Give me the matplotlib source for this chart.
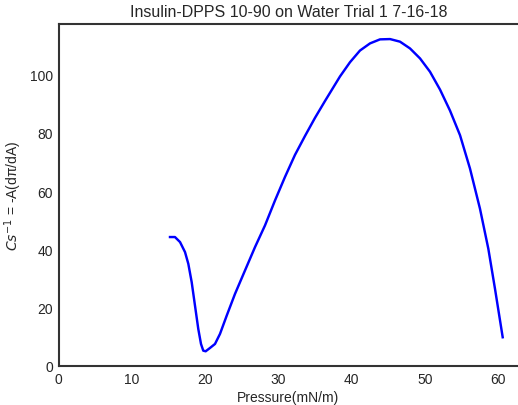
import numpy as np
import matplotlib.pyplot as plt

plt.rcParams['font.family'] = ['Liberation Sans', 'DejaVu Sans']

# Surface pressure (mN/m) and compressional modulus Cs^-1 from the isotherm
pressure = [15.21, 15.89, 16.58, 17.26, 17.71, 18.17, 18.62, 19.07, 19.44, 19.75,
            20.08, 20.67, 21.35, 22.03, 22.95, 24.08, 25.44, 26.81, 28.17, 29.54,
            30.90, 32.26, 33.63, 34.99, 36.36, 38.40, 39.77, 41.13, 42.50, 43.86,
            45.23, 46.59, 47.95, 49.32, 50.68, 52.05, 53.41, 54.78, 56.14, 57.50,
            58.64, 59.55, 60.60]
modulus = [44.23, 44.23, 42.51, 39.07, 35.05, 28.76, 20.72, 12.71, 7.56, 5.26,
           5.05, 6.19, 7.56, 11.00, 17.29, 24.74, 32.75, 40.79, 48.21, 56.80,
           64.85, 72.40, 78.90, 85.10, 90.90, 99.30, 104.20, 108.20, 110.65, 112.03,
           112.13, 111.24, 108.93, 105.50, 100.93, 94.80, 87.60, 79.14, 67.70, 53.95,
           40.21, 26.46, 9.86]

dark = '#262626'
fig = plt.figure(figsize=(5.18, 4.06), dpi=100)
ax = fig.add_axes([58.5 / 518, 39 / 406, (518 - 58.5) / 518, (381 - 39) / 406])

ax.plot(pressure, modulus, color='#0000ff', lw=1.75, solid_joinstyle='round')

ax.set_xlim(0, (518 - 58.5) / 7.33)
ax.set_ylim(0, 117.3)
ax.set_xticks([0, 10, 20, 30, 40, 50, 60])
ax.set_yticks([0, 20, 40, 60, 80, 100])

for side in ['left', 'bottom', 'top']:
    ax.spines[side].set_color('#333333')
    ax.spines[side].set_linewidth(1.5)
ax.spines['right'].set_visible(False)
ax.tick_params(length=0, labelsize=10, labelcolor=dark, pad=4)

ax.set_xlabel('Pressure(mN/m)', fontsize=10, color=dark, labelpad=3)
ax.set_ylabel(r'$Cs^{-1}$ = -A(dπ/dA)', fontsize=10, color=dark, labelpad=4)
ax.set_title('Insulin-DPPS 10-90 on Water Trial 1 7-16-18', fontsize=11.5,
             color=dark, pad=6)

fig.savefig('out.png', dpi=100)
